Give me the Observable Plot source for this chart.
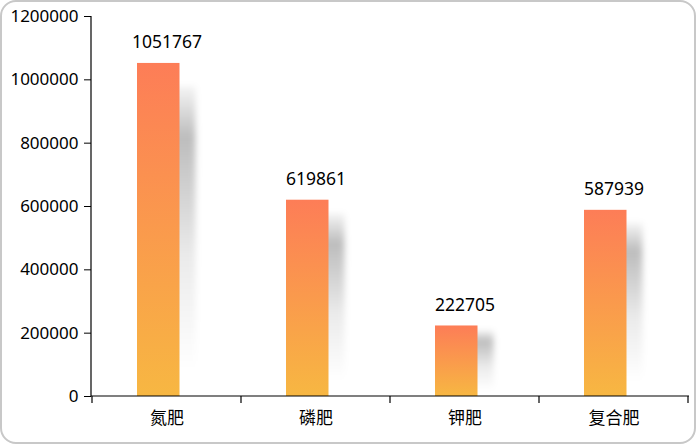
<!DOCTYPE html>
<html><head><meta charset="utf-8">
<script src="https://cdn.jsdelivr.net/npm/d3@7"></script>
<script src="https://cdn.jsdelivr.net/npm/@observablehq/plot@0.6"></script>
<style>
body{margin:0;background:#fff;}
#chart{position:absolute;left:0;top:0;}
#frame{position:absolute;left:0;top:0;width:696px;height:444px;box-sizing:border-box;border:2px solid #c8c8c8;border-radius:16px;pointer-events:none;}
</style></head><body>
<div id="chart"></div><div id="frame"></div>
<script>
const categories = ["氮肥", "磷肥", "钾肥", "复合肥"];
const values = [1051767, 619861, 222705, 587939];
const yTicks = [0, 200000, 400000, 600000, 800000, 1000000, 1200000];

const data = categories.map((c, i) => ({category: c, value: values[i]}));

const defsMark = () => {
  const g = d3.create("svg:g");
  const d = g.append("defs");
  const lg = d.append("linearGradient").attr("id", "barGrad")
    .attr("x1", 0).attr("y1", 0).attr("x2", 0).attr("y2", 1);
  lg.append("stop").attr("offset", "0%").attr("stop-color", "#fd7d57");
  lg.append("stop").attr("offset", "100%").attr("stop-color", "#f7b742");
  const sg = d.append("linearGradient").attr("id", "shadowGrad")
    .attr("x1", 0).attr("y1", 0).attr("x2", 0).attr("y2", 1);
  sg.append("stop").attr("offset", "0%").attr("stop-color", "#000").attr("stop-opacity", 0.04);
  sg.append("stop").attr("offset", "18%").attr("stop-color", "#000").attr("stop-opacity", 0.26);
  sg.append("stop").attr("offset", "60%").attr("stop-color", "#000").attr("stop-opacity", 0.08);
  sg.append("stop").attr("offset", "100%").attr("stop-color", "#000").attr("stop-opacity", 0);
  const f = d.append("filter").attr("id", "shadowBlur")
    .attr("x", "-60%").attr("y", "-30%").attr("width", "220%").attr("height", "160%");
  f.append("feGaussianBlur").attr("stdDeviation", 3);
  return g.node();
};

const axisLines = (index, scales, vals, dims) => {
  const x = scales.x;
  const bw = x.bandwidth();
  const y0 = dims.height - dims.marginBottom;
  const g = d3.create("svg:g").attr("stroke", "black").attr("stroke-width", 1.2);
  g.append("line").attr("x1", dims.marginLeft).attr("x2", dims.marginLeft)
    .attr("y1", dims.marginTop).attr("y2", y0);
  g.append("line").attr("x1", dims.marginLeft).attr("x2", dims.width - dims.marginRight)
    .attr("y1", y0).attr("y2", y0);
  const xs = categories.map(c => x(c)).concat([x(categories[categories.length - 1]) + bw]);
  xs.forEach(px => g.append("line").attr("x1", px).attr("x2", px).attr("y1", y0).attr("y2", y0 + 7));
  return g.node();
};

const chart = Plot.plot({
  width: 696,
  height: 444,
  marginLeft: 91,
  marginRight: 7,
  marginTop: 16,
  marginBottom: 48,
  style: {fontFamily: "'Noto Sans', sans-serif", fontSize: "17px", color: "black", background: "transparent"},
  x: {domain: categories, padding: 0, label: null},
  y: {domain: [0, 1200000], label: null},
  marks: [
    defsMark,
    Plot.barY(data, {
      x: "category", y1: d => d.value * 0.08, y2: d => d.value * 0.93,
      insetLeft: 62, insetRight: 45.5, fill: "url(#shadowGrad)",
      render: (i, s, v, d, c, next) => { const el = next(i, s, v, d, c); el.setAttribute("filter", "url(#shadowBlur)"); return el; }
    }),
    Plot.barY(data, {x: "category", y: "value", insetLeft: 45, insetRight: 61.5, fill: "url(#barGrad)"}),
    Plot.text(data, {x: "category", y: "value", text: d => String(d.value), dy: -21, fontSize: 17.5, fill: "black"}),
    Plot.axisY({ticks: yTicks, tickFormat: d => String(d), tickSize: 7, tickPadding: 6, fontSize: 17, label: null}),
    Plot.axisX({tickSize: 0, tickPadding: 15, fontSize: 17, fontFamily: "'Noto Sans CJK SC', sans-serif", label: null}),
    axisLines
  ]
});
document.getElementById("chart").appendChild(chart);
</script>
</body></html>
